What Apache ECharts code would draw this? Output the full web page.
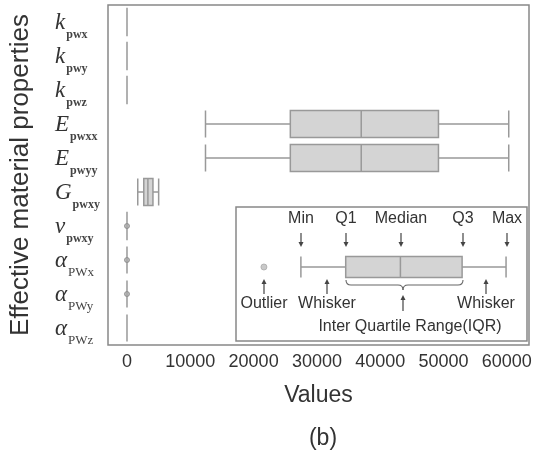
<!DOCTYPE html>
<html>
<head>
<meta charset="utf-8">
<script src="https://cdn.jsdelivr.net/npm/echarts@6/dist/echarts.min.js"></script>
<style>
  html, body { margin: 0; padding: 0; background: #fff; }
  #chart { width: 538px; height: 450px; }
</style>
</head>
<body>
<div id="chart"></div>
<script>
// Property names (top to bottom)
const categories = ['k_pwx', 'k_pwy', 'k_pwz', 'E_pwxx', 'E_pwyy', 'G_pwxy', 'v_pwxy', 'a_PWx', 'a_PWy', 'a_PWz'];

// Five-number summaries: [min, Q1, median, Q3, max]
const kPwx   = [0.4, 0.8, 1.1, 1.5, 2.2];
const kPwy   = [0.4, 0.8, 1.1, 1.5, 2.2];
const kPwz   = [0.4, 0.8, 1.1, 1.5, 2.2];
const ePwxx  = [12400, 25800, 37000, 49200, 60300];
const ePwyy  = [12400, 25800, 37000, 49200, 60300];
const gPwxy  = [1700, 2650, 3300, 4100, 5000];
const nuPwxy = [0.22, 0.26, 0.29, 0.32, 0.36];
const aPwx   = [0.000008, 0.000010, 0.000011, 0.000012, 0.000014];
const aPwy   = [0.000008, 0.000010, 0.000011, 0.000012, 0.000014];
const aPwz   = [0.000020, 0.000022, 0.000023, 0.000024, 0.000026];

// Outliers: [category index, value]
const outliers = [[6, 0.05], [7, 0.00003], [8, 0.00003]];

// Value-axis tick labels
const tickValues = [0, 10000, 20000, 30000, 40000, 50000, 60000];

// Schematic box in the key: min, Q1, median, Q3, max and an outlier (0–100 scale)
const keyBox = [22.3, 37.7, 56.5, 77.7, 92.8];
const keyOutlier = [9.6];

const boxData = [kPwx, kPwy, kPwz, ePwxx, ePwyy, gPwxy, nuPwxy, aPwx, aPwy, aPwz];

const rich = {
  m: { fontFamily: 'Liberation Serif', fontStyle: 'italic', fontSize: 23, color: '#333', verticalAlign: 'bottom', lineHeight: 24 },
  s: { fontFamily: 'Liberation Serif', fontWeight: 'bold', fontSize: 12, color: '#444', verticalAlign: 'bottom', padding: [0, 0, -7, 1], lineHeight: 24 },
  si: { fontFamily: 'Liberation Serif', fontSize: 13, color: '#444', verticalAlign: 'bottom', padding: [0, 0, -7, 1], lineHeight: 24 }
};

function labelFor(name) {
  const [base, sub] = name.split('_');
  const letter = { k: 'k', E: 'E', G: 'G', v: 'ν', a: 'α' }[base];
  const subStyle = base === 'a' ? 'si' : 's';
  return '{m|' + letter + '}{' + subStyle + '|' + sub + '}';
}

const chart = echarts.init(document.getElementById('chart'));

const textStyle = { fontFamily: 'Liberation Sans', fontSize: 16, fill: '#333' };
function txt(x, y, s) {
  return { type: 'text', x: x, y: y, z: 20, style: Object.assign({ text: s, align: 'center', verticalAlign: 'middle' }, textStyle) };
}
function arrow(x, y1, y2) {
  // shaft from y1 to y2 with the head at y2
  const dir = y2 > y1 ? 1 : -1;
  return [
    { type: 'line', z: 20, shape: { x1: x, y1: y1, x2: x, y2: y2 - dir * 3 }, style: { stroke: '#444', lineWidth: 1.2 } },
    { type: 'polygon', z: 20, shape: { points: [[x - 2.5, y2 - dir * 5], [x + 2.5, y2 - dir * 5], [x, y2]] }, style: { fill: '#444' } }
  ];
}
function curve(x1, y1, cx, cy, x2, y2) {
  return { type: 'bezierCurve', z: 20, shape: { x1: x1, y1: y1, cpx1: cx, cpy1: cy, x2: x2, y2: y2 }, style: { fill: null, stroke: '#666', lineWidth: 1.1 } };
}
function seg(x1, y1, x2, y2) {
  return { type: 'line', z: 20, shape: { x1: x1, y1: y1, x2: x2, y2: y2 }, style: { stroke: '#666', lineWidth: 1.1 } };
}

const keyGraphics = [
  { type: 'rect', z: 15, shape: { x: 236, y: 207, width: 291, height: 134 }, style: { fill: '#fff', stroke: '#888', lineWidth: 1.5 } },
  txt(301, 219, 'Min'), txt(346, 219, 'Q1'), txt(401, 219, 'Median'), txt(463, 219, 'Q3'), txt(507, 219, 'Max'),
  ...arrow(301, 233, 247), ...arrow(346, 233, 247), ...arrow(401, 233, 247), ...arrow(463, 233, 247), ...arrow(507, 233, 247),
  ...arrow(264, 294, 279), ...arrow(327, 294, 279), ...arrow(486, 294, 279), ...arrow(403, 311, 295),
  txt(264, 304, 'Outlier'), txt(327, 304, 'Whisker'), txt(486, 304, 'Whisker'),
  txt(410, 327, 'Inter Quartile Range(IQR)'),
  // curly brace under the box
  curve(346, 280, 346, 285, 351, 285), seg(351, 285, 398, 285), curve(398, 285, 403, 285, 403, 290),
  curve(403, 290, 403, 285, 408, 285), seg(408, 285, 458, 285), curve(458, 285, 463, 285, 463, 280)
];

chart.setOption({
  animation: false,
  title: {
    text: '(b)', left: 318, top: 422, textAlign: 'center',
    textStyle: { fontFamily: 'Liberation Sans', fontWeight: 'normal', fontSize: 23, color: '#333' }
  },
  grid: [
    { left: 108, right: 9, top: 5, bottom: 105, show: true, borderColor: '#888', borderWidth: 1.5, backgroundColor: 'transparent', outerBoundsMode: 'none', containLabel: false },
    { left: 236, width: 291, top: 247, height: 40, z: 30, outerBoundsMode: 'none', containLabel: false }
  ],
  xAxis: [
    {
      type: 'value', min: -3000, max: 63500, gridIndex: 0,
      name: 'Values', nameLocation: 'middle', nameGap: 39,
      nameTextStyle: { fontFamily: 'Liberation Sans', fontSize: 23, color: '#333' },
      axisLine: { show: false }, axisTick: { show: false }, splitLine: { show: false },
      axisLabel: { customValues: tickValues, formatter: v => String(v), margin: 8, fontFamily: 'Liberation Sans', fontSize: 18, color: '#333' }
    },
    { type: 'value', min: 0, max: 100, gridIndex: 1, show: false }
  ],
  yAxis: [
    {
      type: 'category', data: categories, inverse: true, gridIndex: 0,
      name: 'Effective material properties', nameLocation: 'middle', nameGap: 74, nameRotate: 90,
      nameTextStyle: { fontFamily: 'Liberation Sans', fontSize: 26, color: '#333' },
      axisLine: { show: false }, axisTick: { show: false }, splitLine: { show: false },
      axisLabel: { align: 'left', margin: 53, formatter: labelFor, rich: rich }
    },
    { type: 'category', data: ['key'], gridIndex: 1, show: false }
  ],
  graphic: keyGraphics,
  series: [
    {
      type: 'boxplot', xAxisIndex: 0, yAxisIndex: 0, data: boxData, boxWidth: [27, 27],
      itemStyle: { color: '#d4d4d4', borderColor: '#999', borderWidth: 1.5 }
    },
    {
      type: 'scatter', xAxisIndex: 0, yAxisIndex: 0,
      data: outliers.map(o => [o[1], o[0]]), symbolSize: 5,
      itemStyle: { color: '#aaa', borderColor: '#888', borderWidth: 1 }
    },
    {
      type: 'boxplot', xAxisIndex: 1, yAxisIndex: 1, z: 30, data: [keyBox], boxWidth: [21, 21],
      itemStyle: { color: '#d4d4d4', borderColor: '#999', borderWidth: 1.5 }
    },
    {
      type: 'scatter', xAxisIndex: 1, yAxisIndex: 1, z: 30,
      data: keyOutlier.map(v => [v, 0]), symbolSize: 6,
      itemStyle: { color: '#bbb', borderColor: '#aaa', borderWidth: 1 }
    }
  ]
});
</script>
</body>
</html>
